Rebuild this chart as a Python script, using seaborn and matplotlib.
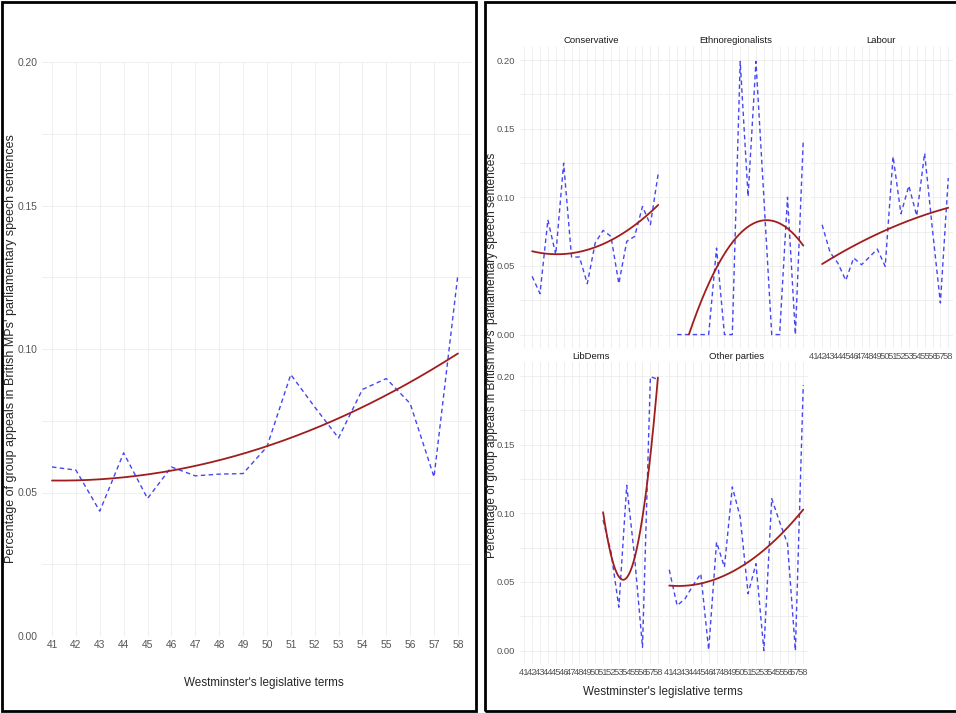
import numpy as np
import matplotlib
matplotlib.use("Agg")
import matplotlib.pyplot as plt
import seaborn as sns
from matplotlib.patches import Rectangle

# ---- data ----
terms_all = list(range(41, 59))
overall = [0.0589, 0.0578, 0.0435, 0.0638, 0.0479, 0.0589, 0.0558, 0.0564, 0.0566,
           0.0659, 0.0911, 0.0798, 0.0690, 0.0859, 0.0897, 0.0810, 0.0554, 0.1260]

conservative_terms = list(range(42, 59))
conservative = [0.0424, 0.0298, 0.0836, 0.0582, 0.1249, 0.0565, 0.0565, 0.0371, 0.0667,
                0.0759, 0.0715, 0.0371, 0.0679, 0.0715, 0.0933, 0.0800, 0.1176]

ethno_terms = list(range(42, 59))
ethno = [0.0, 0.0, 0.0, 0.0, 0.0, 0.063, 0.0, 0.0, 0.199, 0.1006, 0.199,
         0.100, 0.0, 0.0, 0.100, 0.0, 0.1418]

labour_terms = list(range(42, 59))
labour = [0.080, 0.060, 0.052, 0.0395, 0.0558, 0.0509, 0.0565, 0.0623, 0.0497,
          0.1297, 0.088, 0.1084, 0.0865, 0.1321, 0.076, 0.023, 0.114]

libdem_terms = list(range(51, 59))
libdems = [0.095, 0.072, 0.0316, 0.1204, 0.068, 0.0024, 0.1995, 0.1975]

other_terms = list(range(41, 59))
other = [0.0589, 0.0328, 0.0377, 0.0474, 0.056, 0.0005, 0.079, 0.0608, 0.1192,
         0.0973, 0.0414, 0.0633, 0.0, 0.1107, 0.0937, 0.0779, 0.0, 0.1934]

party_names = ["Conservative", "Ethnoregionalists", "Labour", "LibDems", "Other parties"]
party_data = [(conservative_terms, conservative), (ethno_terms, ethno),
              (labour_terms, labour), (libdem_terms, libdems), (other_terms, other)]

y_breaks = [0.0, 0.05, 0.10, 0.15, 0.20]
y_minor = [0.025, 0.075, 0.125, 0.175]

ylab = "Percentage of group appeals in British MPs' parliamentary speech sentences"
xlab = "Westminster's legislative terms"

sns.set_theme(style="white")
plt.rcParams['font.family'] = ['Liberation Sans', 'DejaVu Sans']

BLUE = "#4646f2"
RED = "#a01d1d"
GRID = "#ececec"
TICK = "#555555"

W, H = 956, 713
fig = plt.figure(figsize=(W / 100, H / 100), dpi=100)


def px_axes(x0, y0, x1, y1):
    return fig.add_axes([x0 / W, 1 - y1 / H, (x1 - x0) / W, (y1 - y0) / H])


def style_axes(ax, show_x, show_y, xlim=(40.4, 58.6), ypad=0.01, size=6.8):
    ax.set_xlim(*xlim)
    ax.set_ylim(-ypad, 0.2 + ypad)
    ax.set_xticks(terms_all)
    ax.set_yticks(y_breaks)
    ax.set_yticks(y_minor, minor=True)
    ax.grid(True, which="both", color=GRID, linewidth=0.6)
    ax.set_axisbelow(True)
    for s in ax.spines.values():
        s.set_visible(False)
    ax.tick_params(which="both", length=0, labelsize=size, colors=TICK, pad=3)
    ax.set_yticklabels([f"{v:.2f}" for v in y_breaks])
    if not show_x:
        ax.set_xticklabels([])
    if not show_y:
        ax.set_yticklabels([])
    ax.set_xlabel("")
    ax.set_ylabel("")


def draw_series(ax, x, y):
    sns.lineplot(x=x, y=y, ax=ax, color=BLUE, linewidth=1.0,
                 linestyle=(0, (3.2, 2.4)), clip_on=False)
    coef = np.polyfit(x, y, 2)
    xs = np.linspace(min(x), max(x), 300)
    ys = np.polyval(coef, xs)
    keep = (ys >= 0) & (ys <= 0.2)
    sns.lineplot(x=xs[keep], y=ys[keep], ax=ax, color=RED, linewidth=1.3)


# ---- left panel: all MPs ----
# 41 sits at x=52 px, 58 at x=458 px
axL = px_axes(42, 62, 472, 636)
draw_series(axL, terms_all, overall)
style_axes(axL, True, True, xlim=(40.58, 58.59), ypad=0.0, size=7.4)
fig.text(11 / W, 1 - 349 / H, ylab, rotation=90, ha="center", va="center", fontsize=9.0)
fig.text(264 / W, 1 - 683 / H, xlab, ha="center", va="center", fontsize=8.4)

# ---- right panel: facets by party ----
col_x = [519.5, 664.5, 809.5]
row_y = [46.3, 362.3]
pw, ph = 143.5, 302.0
for i, (name, (xv, yv)) in enumerate(zip(party_names, party_data)):
    r, c = divmod(i, 3)
    x0, y0 = col_x[c], row_y[r]
    ax = px_axes(x0, y0, x0 + pw, y0 + ph)
    draw_series(ax, xv, yv)
    show_x = (r == 1) or (c == 2)
    style_axes(ax, show_x, c == 0)
    ax.set_title(name, fontsize=6.8, color="#1a1a1a", pad=2.5)

fig.text(492 / W, 1 - 355 / H, ylab, rotation=90, ha="center", va="center", fontsize=8.6)
fig.text(663 / W, 1 - 692 / H, xlab, ha="center", va="center", fontsize=8.4)

# frames around the two combined plots
fig.patches.append(Rectangle((2 / W, 1 - 711 / H), 474 / W, 709 / H, transform=fig.transFigure,
                             fill=False, edgecolor="black", linewidth=2.0))
fig.patches.append(Rectangle((485 / W, 1 - 711 / H), 480 / W, 709 / H, transform=fig.transFigure,
                             fill=False, edgecolor="black", linewidth=2.0))

fig.savefig("out.png", dpi=100)
